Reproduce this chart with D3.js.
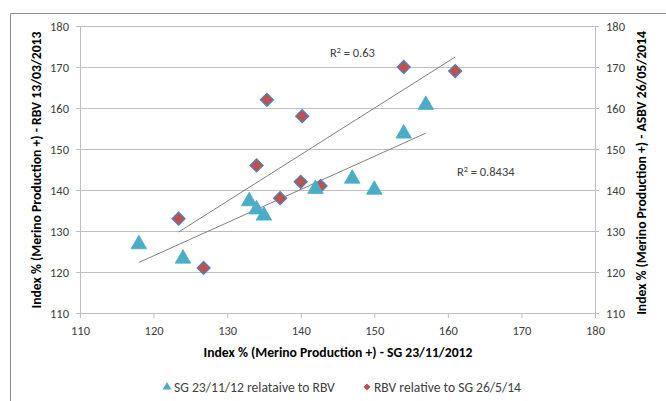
<!DOCTYPE html>
<html>
<head>
<meta charset="utf-8">
<script src="https://cdn.jsdelivr.net/npm/d3@7"></script>
<style>
  html, body { margin: 0; padding: 0; background: #fff; }
  svg { display: block; }
  text { font-family: Carlito, Lato, "Liberation Sans", Arial, sans-serif; }
</style>
</head>
<body>
<svg id="chart" width="666" height="401"></svg>
<script>
// ---- Data ----
const sgX  = [118, 124, 133, 134, 135, 142, 147, 150, 154, 157];
const sgY  = [127, 123.5, 137.5, 135.5, 134, 140.5, 143, 140.3, 154, 161];
const rbvX = [123.4, 126.8, 134, 135.4, 137.2, 140, 140.2, 142.7, 154, 161];
const rbvY = [133, 121, 146, 162, 138, 142, 158, 141, 170, 169];
const tickValues = [110, 120, 130, 140, 150, 160, 170, 180];
const seriesNames = ["SG 23/11/12 relataive to RBV", "RBV relative to SG 26/5/14"];
const r2Labels = ["0.8434", "0.63"];
const xTitle = "Index % (Merino Production +) - SG 23/11/2012";
const yLeftTitle = "Index % (Merino Production +) - RBV 13/03/2013";
const yRightTitle = "Index % (Merino Production +) - ASBV 26/05/2014";

// ---- Setup ----
const svg = d3.select("#chart");
const W = 666, H = 401;
const plot = { left: 80, right: 595, top: 26, bottom: 313 };
const x = d3.scaleLinear().domain([110, 180]).range([plot.left, plot.right]);
const y = d3.scaleLinear().domain([110, 180]).range([plot.bottom, plot.top]);

const textColor = "#404040";
const gridColor = "#bfbfbf";
const triColor = "#4BACC6";
const diaFill = "#C0504D";
const diaStroke = "#4F81BD";

// scale a text's font size so it spans the given width
function fit(sel, target) {
  const node = sel.node();
  const w = node.getComputedTextLength();
  const fs = parseFloat(sel.style("font-size"));
  if (w > 0) sel.style("font-size", (fs * target / w).toFixed(2) + "px");
  return sel;
}

// outer frame
svg.append("path")
  .attr("d", `M10.5,${H} V13.5 H${W}`)
  .attr("fill", "none").attr("stroke", "#8c8c8c").attr("stroke-width", 1);

// gridlines
svg.append("g").selectAll("line")
  .data(tickValues.filter(v => v > 110))
  .join("line")
  .attr("x1", plot.left).attr("x2", plot.right)
  .attr("y1", d => Math.round(y(d)) + 0.5).attr("y2", d => Math.round(y(d)) + 0.5)
  .attr("stroke", gridColor).attr("stroke-width", 1);

// axes
const axisStyle = g => {
  g.selectAll(".domain").attr("stroke", gridColor);
  g.selectAll(".tick line").attr("stroke", gridColor);
  g.selectAll(".tick text").attr("fill", textColor).style("font-size", "12.5px");
};
svg.append("g").attr("transform", `translate(0,${plot.bottom})`)
  .call(d3.axisBottom(x).tickValues(tickValues).tickSize(5).tickSizeOuter(0).tickPadding(8))
  .call(axisStyle);
svg.append("g").attr("transform", `translate(${plot.left},0)`)
  .call(d3.axisLeft(y).tickValues(tickValues).tickSize(4).tickSizeOuter(0).tickPadding(7))
  .call(axisStyle);
svg.append("g").attr("transform", `translate(${plot.right},0)`)
  .call(d3.axisRight(y).tickValues(tickValues).tickSize(4).tickSizeOuter(0).tickPadding(7))
  .call(axisStyle);

// trendlines (least squares from data)
function linreg(xs, ys) {
  const n = xs.length;
  const mx = d3.mean(xs), my = d3.mean(ys);
  let sxy = 0, sxx = 0;
  for (let i = 0; i < n; i++) { sxy += (xs[i]-mx)*(ys[i]-my); sxx += (xs[i]-mx)**2; }
  const b = sxy / sxx, a = my - b*mx;
  return v => a + b*v;
}
[[sgX, sgY], [rbvX, rbvY]].forEach(([xs, ys]) => {
  const f = linreg(xs, ys);
  const [x0, x1] = d3.extent(xs);
  svg.append("line")
    .attr("x1", x(x0)).attr("y1", y(f(x0)))
    .attr("x2", x(x1)).attr("y2", y(f(x1)))
    .attr("stroke", "#7f7f7f").attr("stroke-width", 1);
});

// markers
const tri = d3.symbol().type(d3.symbolTriangle).size(105);
const dia = d3.symbol().type(d3.symbolSquare).size(84);

svg.append("g").selectAll("path")
  .data(d3.zip(rbvX, rbvY))
  .join("path")
  .attr("d", dia)
  .attr("transform", d => `translate(${x(d[0])},${y(d[1])}) rotate(45)`)
  .attr("fill", diaFill).attr("stroke", diaStroke).attr("stroke-width", 1.3);

svg.append("g").selectAll("path")
  .data(d3.zip(sgX, sgY))
  .join("path")
  .attr("d", tri)
  .attr("transform", d => `translate(${x(d[0])},${y(d[1]) + 1})`)
  .attr("fill", triColor).attr("stroke", triColor).attr("stroke-width", 0.8);

// R² labels
function r2(tx, ty, val, width) {
  const t = svg.append("text").attr("x", tx).attr("y", ty)
    .attr("fill", textColor).style("font-size", "12.5px");
  t.append("tspan").text("R");
  t.append("tspan").text("2").attr("dy", -4).style("font-size", "8px");
  t.append("tspan").text(" = " + val).attr("dy", 4);
}
r2(330, 57, r2Labels[1]);
r2(457, 176, r2Labels[0]);

// axis titles
fit(svg.append("text").attr("x", 338).attr("y", 357).attr("text-anchor", "middle")
  .attr("fill", "#000").style("font-size", "12px").style("font-weight", "bold").text(xTitle), 269);
fit(svg.append("text").attr("transform", `translate(41,170) rotate(-90)`).attr("text-anchor", "middle")
  .attr("fill", "#000").style("font-size", "12px").style("font-weight", "bold").text(yLeftTitle), 277);
fit(svg.append("text").attr("transform", `translate(646,173) rotate(-90)`).attr("text-anchor", "middle")
  .attr("fill", "#000").style("font-size", "12px").style("font-weight", "bold").text(yRightTitle), 284);

// legend
const lg = svg.append("g");
lg.append("path").attr("d", d3.symbol().type(d3.symbolTriangle).size(34))
  .attr("transform", "translate(167,387)").attr("fill", triColor);
fit(lg.append("text").attr("x", 174).attr("y", 391.5).attr("fill", textColor)
  .style("font-size", "12px").text(seriesNames[0]), 161);
lg.append("path").attr("d", d3.symbol().type(d3.symbolSquare).size(24))
  .attr("transform", "translate(367,387) rotate(45)").attr("fill", diaFill);
fit(lg.append("text").attr("x", 374).attr("y", 391.5).attr("fill", textColor)
  .style("font-size", "12px").text(seriesNames[1]), 147);
</script>
</body>
</html>
